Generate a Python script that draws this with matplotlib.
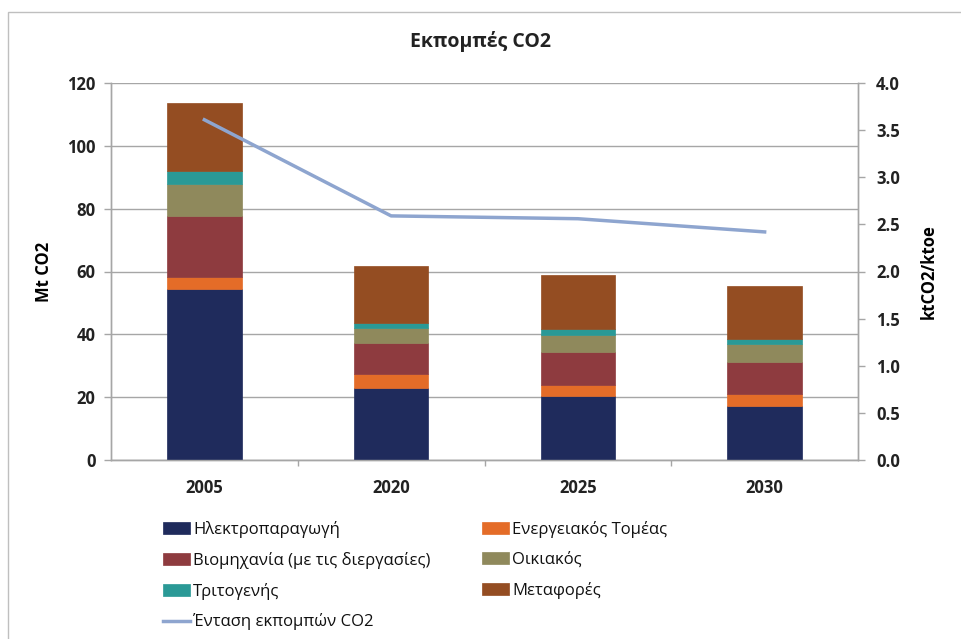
import matplotlib.pyplot as plt
import numpy as np
from matplotlib.patches import Rectangle

plt.rcParams['font.family'] = ['Open Sans', 'DejaVu Sans']

years = ['2005', '2020', '2025', '2030']
electricity = [54.3, 22.8, 20.4, 17.2]
energy_sector = [3.9, 4.7, 3.6, 3.7]
industry = [19.6, 9.7, 10.3, 10.4]
residential = [10.0, 4.9, 5.5, 5.5]
tertiary = [4.3, 1.4, 1.9, 1.8]
transport = [21.5, 18.2, 17.2, 16.9]
intensity = [3.61, 2.59, 2.56, 2.42]

series = [
    ('Ηλεκτροπαραγωγή', electricity, '#1f2b5c'),
    ('Ενεργειακός Τομέας', energy_sector, '#e46c28'),
    ('Βιομηχανία (με τις διεργασίες)', industry, '#8e3b3f'),
    ('Οικιακός', residential, '#8f895c'),
    ('Τριτογενής', tertiary, '#2a9996'),
    ('Μεταφορές', transport, '#944d22'),
]

fig = plt.figure(figsize=(9.61, 6.39), dpi=100)
ax = fig.add_axes([111 / 961, 1 - 460 / 639, 747 / 961, 377 / 639])
ax2 = ax.twinx()

x = np.arange(len(years))
bottom = np.zeros(len(years))
handles = {}
for name, vals, col in series:
    b = ax.bar(x, vals, 0.4, bottom=bottom, color=col, edgecolor=col,
               linewidth=0.5, label=name, zorder=3)
    handles[name] = b
    bottom += np.array(vals)

line, = ax2.plot(x, intensity, color='#8ea5cf', lw=2.5, label='Ένταση εκπομπών CO2')

grid_col = '#a6a6a6'
ax.set_xlim(-0.5, 3.5)
ax.set_ylim(0, 120)
ax.set_yticks(np.arange(0, 121, 20))
ax2.set_ylim(0, 4)
ax2.set_yticks(np.arange(0, 4.01, 0.5))
ax2.set_yticklabels([f'{v:.1f}' for v in np.arange(0, 4.01, 0.5)])
ax.yaxis.grid(True, color=grid_col, lw=1, zorder=0)
ax.set_axisbelow(True)

ax.set_xticks(x)
ax.set_xticklabels(years)
ax.set_xticks(np.arange(0.5, 3, 1), minor=True)
ax.tick_params(axis='x', which='major', length=0, pad=14)
ax.tick_params(axis='x', which='minor', length=4, color=grid_col, width=1)
ax.tick_params(axis='y', length=5, color=grid_col, width=1, pad=6)
ax2.tick_params(axis='y', length=5, color=grid_col, width=1, pad=8)

for a in (ax, ax2):
    a.spines['top'].set_visible(False)
    for s in ('left', 'right', 'bottom'):
        a.spines[s].set_color(grid_col)
        a.spines[s].set_linewidth(1)
    for lab in a.get_xticklabels() + a.get_yticklabels():
        lab.set_fontweight('bold')
        lab.set_fontsize(12)
        lab.set_color('#222222')

ax.set_ylabel('Mt CO2', fontsize=12, fontweight='bold', labelpad=10)
ax2.set_ylabel('ktCO2/ktoe', fontsize=12, fontweight='bold', labelpad=14)
fig.text(0.5, 1 - 42 / 639, 'Εκπομπές CO2', ha='center', va='center',
         fontsize=14, fontweight='bold', color='#222222')

order = ['Ηλεκτροπαραγωγή', 'Βιομηχανία (με τις διεργασίες)', 'Τριτογενής']
h = [handles[n] for n in order] + [line]
l = order + ['Ένταση εκπομπών CO2']
order2 = ['Ενεργειακός Τομέας', 'Οικιακός', 'Μεταφορές']
h += [handles[n] for n in order2]
l += order2
leg = fig.legend(h, l, ncol=2, loc='upper left', bbox_to_anchor=(148 / 961, 1 - 506 / 639),
                 frameon=False, prop={'size': 12},
                 handlelength=1.6, handleheight=0.7,
                 handletextpad=0.2, columnspacing=3.1, labelspacing=0.83)
for t in leg.get_texts():
    t.set_color('#111111')

fig.add_artist(Rectangle((8 / 961, -0.1), 1.2, 1 - 12 / 639 + 0.1,
                         transform=fig.transFigure, fill=False,
                         edgecolor='#bfbfbf', lw=1))

fig.savefig('out.png', dpi=100)
